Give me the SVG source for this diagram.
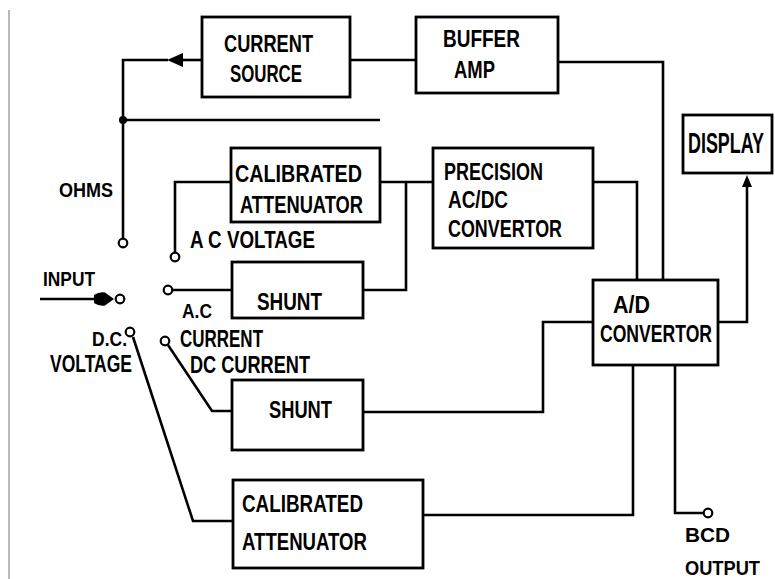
<svg xmlns="http://www.w3.org/2000/svg" width="775" height="579" viewBox="0 0 775 579">
<defs>
<style>
.box{fill:#fff;stroke:#000;stroke-width:2.8}
.w{fill:none;stroke:#000;stroke-width:2.6;stroke-linejoin:miter}
.t{font-family:"Liberation Sans",Arial,sans-serif;font-weight:bold;font-size:24px;fill:#000}
.s{font-size:21px}
.term{fill:#fff;stroke:#000;stroke-width:2.2}
</style>
<marker id="ah" markerUnits="userSpaceOnUse" markerWidth="16" markerHeight="14" refX="0" refY="7" orient="auto" overflow="visible">
<path d="M0,0 L16,7 L0,14 z" fill="#000"/>
</marker>
<marker id="ahs" markerUnits="userSpaceOnUse" markerWidth="12" markerHeight="10" refX="0" refY="5" orient="auto" overflow="visible">
<path d="M0,0 L12,5 L0,10 z" fill="#000"/>
</marker>
<marker id="tear" markerUnits="userSpaceOnUse" markerWidth="20" markerHeight="14" refX="0" refY="7" orient="auto" overflow="visible">
<path d="M0,3 Q5,-0.5 11,0.5 L20,7 L11,13.5 Q5,14.5 0,11 z" fill="#000"/>
</marker>
</defs>
<rect width="775" height="579" fill="#fff"/>
<line x1="9" y1="10" x2="9" y2="579" stroke="#8a8a8a" stroke-width="1.2"/>

<g id="connectors">
<path class="w" d="M202,60 L183,60" marker-end="url(#ah)"/>
<path class="w" d="M168,60 L123,60 L123,239"/>
<circle cx="123" cy="120" r="4" fill="#000"/>
<path class="w" d="M123,120 L380,120"/>
<path class="w" d="M350,60 L416,60"/>
<path class="w" d="M558,62 L663,62 L663,280"/>
<path class="w" d="M231,182 L175,182 L175,252"/>
<path class="w" d="M380,182 L433,182"/>
<path class="w" d="M406,182 L406,290 L363,290"/>
<path class="w" d="M172,290 L232,290"/>
<path class="w" d="M593,182 L637,182 L637,280"/>
<path class="w" d="M718,322 L747,322 L747,187" marker-end="url(#ahs)"/>
<path class="w" d="M593,322 L543,322 L543,412 L363,412"/>
<path class="w" d="M168,345 L212,411 L232,411"/>
<path class="w" d="M133,337 L193,521 L233,521"/>
<path class="w" d="M633,365 L633,515 L423,515"/>
<path class="w" d="M675,365 L675,513 L704,513"/>
<path class="w" d="M40,299 L94,299" marker-end="url(#tear)"/>
</g>

<g id="terminals">
<circle class="term" cx="123" cy="243" r="4.3"/>
<circle class="term" cx="175" cy="257" r="4.3"/>
<circle class="term" cx="120" cy="299" r="4.3"/>
<circle class="term" cx="168" cy="290" r="4.3"/>
<circle class="term" cx="165" cy="341" r="4.3"/>
<circle class="term" cx="130" cy="332" r="4.3"/>
<circle class="term" cx="708" cy="513" r="4.3"/>
</g>

<g id="current-source">
<rect class="box" x="202" y="17" width="148" height="80"/>
<text class="t" x="224" y="52" textLength="89" lengthAdjust="spacingAndGlyphs">CURRENT</text>
<text class="t" x="230" y="82" textLength="72" lengthAdjust="spacingAndGlyphs">SOURCE</text>
</g>

<g id="buffer-amp">
<rect class="box" x="416" y="17" width="142" height="76"/>
<text class="t" x="443" y="47" textLength="77" lengthAdjust="spacingAndGlyphs">BUFFER</text>
<text class="t" x="454" y="78" textLength="41" lengthAdjust="spacingAndGlyphs">AMP</text>
</g>

<g id="cal-attenuator-ac">
<rect class="box" x="231" y="148" width="149" height="74"/>
<text class="t" x="235" y="182" textLength="127" lengthAdjust="spacingAndGlyphs">CALIBRATED</text>
<text class="t" x="240" y="213" textLength="123" lengthAdjust="spacingAndGlyphs">ATTENUATOR</text>
</g>

<g id="precision-converter">
<rect class="box" x="433" y="148" width="160" height="100"/>
<text class="t" x="444" y="180" textLength="99" lengthAdjust="spacingAndGlyphs">PRECISION</text>
<text class="t" x="448" y="208" textLength="60" lengthAdjust="spacingAndGlyphs">AC/DC</text>
<text class="t" x="448" y="237" textLength="114" lengthAdjust="spacingAndGlyphs">CONVERTOR</text>
</g>

<g id="display">
<rect class="box" x="683" y="115" width="89" height="58"/>
<text class="t" transform="translate(688,153) scale(1,1.2)" x="0" y="0" font-size="19" textLength="76" lengthAdjust="spacingAndGlyphs">DISPLAY</text>
</g>

<g id="shunt-ac">
<rect class="box" x="232" y="262" width="131" height="56"/>
<text class="t" x="257" y="310" textLength="65" lengthAdjust="spacingAndGlyphs">SHUNT</text>
</g>

<g id="ad-converter">
<rect class="box" x="593" y="280" width="125" height="85"/>
<text class="t" x="613" y="313" textLength="37" lengthAdjust="spacingAndGlyphs">A/D</text>
<text class="t" x="600" y="342" textLength="112" lengthAdjust="spacingAndGlyphs">CONVERTOR</text>
</g>

<g id="shunt-dc">
<rect class="box" x="232" y="380" width="131" height="70"/>
<text class="t" x="269" y="418" textLength="63" lengthAdjust="spacingAndGlyphs">SHUNT</text>
</g>

<g id="cal-attenuator-dc">
<rect class="box" x="233" y="480" width="190" height="88"/>
<text class="t" x="242" y="512" textLength="121" lengthAdjust="spacingAndGlyphs">CALIBRATED</text>
<text class="t" x="242" y="550" textLength="125" lengthAdjust="spacingAndGlyphs">ATTENUATOR</text>
</g>

<g id="labels">
<text class="t s" x="59" y="197" textLength="54" lengthAdjust="spacingAndGlyphs">OHMS</text>
<text class="t" x="190" y="248" textLength="125" lengthAdjust="spacingAndGlyphs">A C VOLTAGE</text>
<text class="t s" x="43" y="286" textLength="52" lengthAdjust="spacingAndGlyphs">INPUT</text>
<text class="t s" x="182" y="318" textLength="30" lengthAdjust="spacingAndGlyphs">A.C</text>
<text class="t" x="180" y="347" textLength="83" lengthAdjust="spacingAndGlyphs">CURRENT</text>
<text class="t s" x="92" y="346" textLength="35" lengthAdjust="spacingAndGlyphs">D.C.</text>
<text class="t" x="50" y="372" textLength="82" lengthAdjust="spacingAndGlyphs">VOLTAGE</text>
<text class="t" x="190" y="373" textLength="120" lengthAdjust="spacingAndGlyphs">DC CURRENT</text>
<text class="t s" x="685" y="542" textLength="45" lengthAdjust="spacingAndGlyphs">BCD</text>
<text class="t s" x="685" y="575" textLength="75" lengthAdjust="spacingAndGlyphs">OUTPUT</text>
</g>
</svg>
